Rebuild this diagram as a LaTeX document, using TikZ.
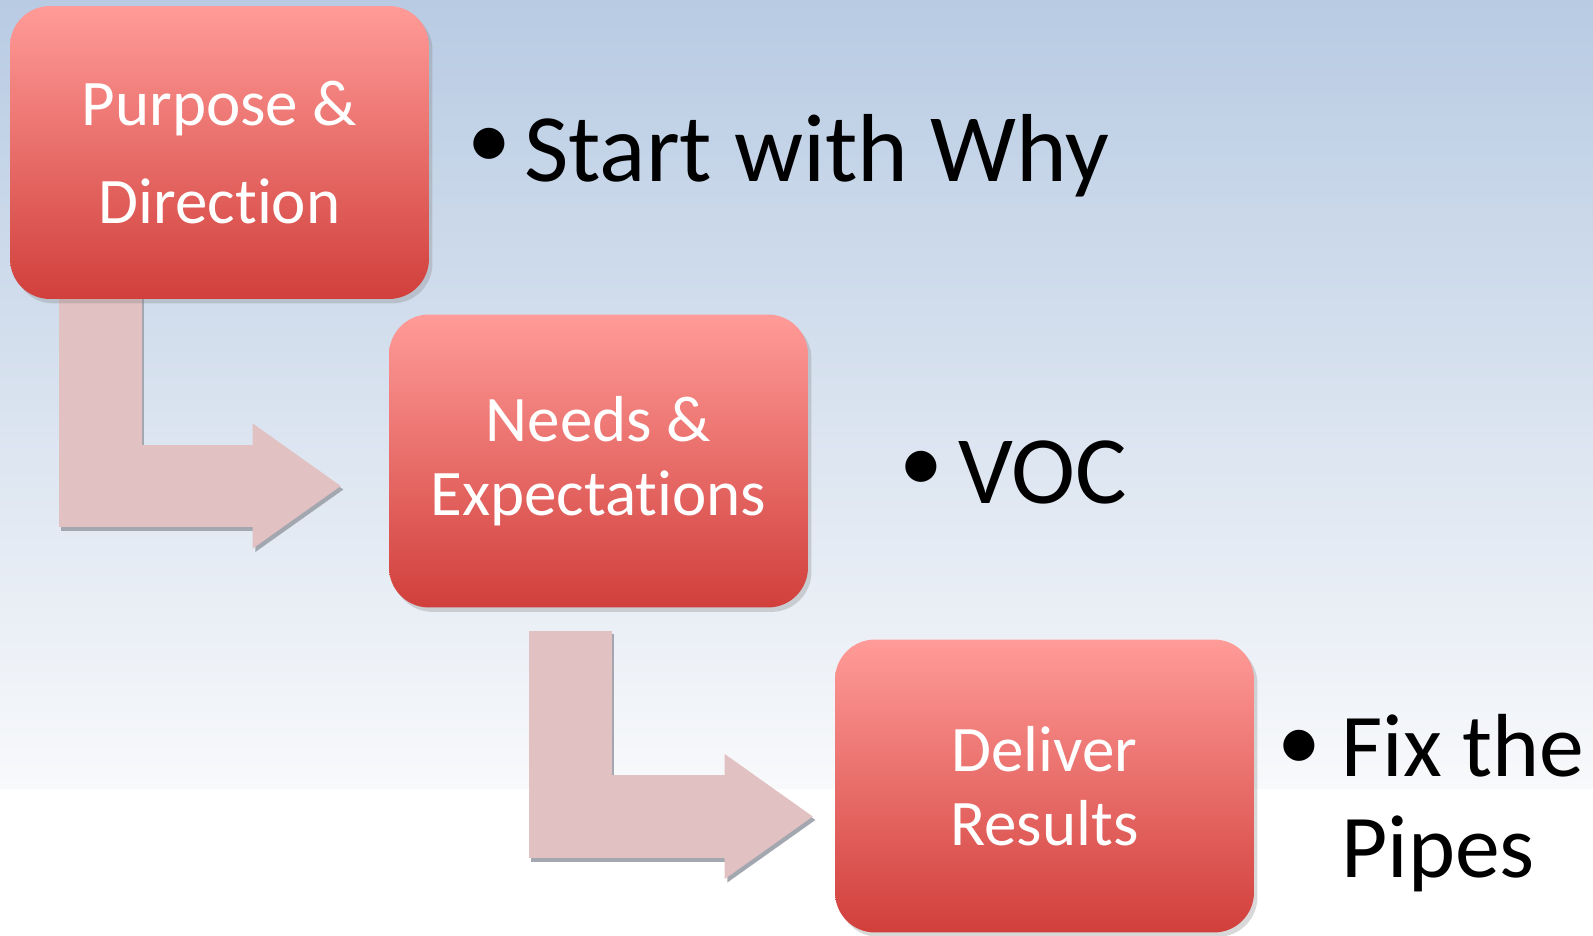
\documentclass[tikz,border=0pt]{standalone}
\usepackage{fontspec}
\setmainfont{Carlito}[RawFeature={-liga;-clig;-calt;-dlig}]
\usetikzlibrary{arrows.meta, calc, backgrounds, shadows}
\definecolor{cbgtop}{HTML}{B8CBE3}
\definecolor{cbgbot}{HTML}{F8F9FB}
\definecolor{cboxtop}{HTML}{FF9B98}
\definecolor{cboxbot}{HTML}{D13F3B}
\definecolor{carrow}{HTML}{E2C1C3}
\definecolor{cshade}{HTML}{A3A7B0}
\tikzset{
  stage/.style={draw=none, rounded corners=0.8cm, top color=cboxtop, bottom color=cboxbot,
    text=white, align=center, inner sep=0pt, minimum width=8.38cm, minimum height=5.86cm,
    drop shadow={shadow xshift=2pt, shadow yshift=-2.5pt, opacity=0.3},
    font=\fontsize{37}{42}\selectfont},
  dot/.style={inner sep=0pt, font=\fontsize{50}{56}\selectfont},
  point/.style={anchor=base west, inner sep=0pt, align=left, font=\fontsize{55}{56}\selectfont},
  bent/.style={draw=carrow, line width=1.66cm, line join=miter,
    -{Triangle[length=1.76cm, width=2.5cm, line width=0pt]}},
  bentshade/.style={bent, draw=cshade, transform canvas={xshift=1.5pt, yshift=-2pt}},
}

\begin{document}
\begin{tikzpicture}[x=0.02cm, y=-0.02cm]
  \useasboundingbox (0,0) rectangle (1593,936);

  % ---- stages
  \node[stage, font=\fontsize{37}{56}\selectfont] (p1) at (219.5,152.5) {Purpose \&\\Direction};
  \node[stage] (p2) at (598.5,461) {Needs \&\\Expectations};
  \node[stage] (p3) at (1044.5,786) {Deliver\\Results};

  % ---- bullet points
  \node[dot] (d1) at (489,148) {•};
  \node[point] (t1) at (524,181) {Start with Why};
  \node[dot] (d2) at (921.5,471.5) {•};
  \node[point] (t2) at (958,503) {VOC};
  \node[dot] (d3) at (1299.5,750) {•};
  \node[point, font=\fontsize{51}{57}\selectfont] (t3) at (1341,877) {Fix the\\Pipes};

  \begin{scope}[on background layer]
    \fill[top color=cbgtop, bottom color=cbgbot] (0,0) rectangle (1593,789);
    \fill[white] (0,789) rectangle (1593,936);
    % bent arrows
    \draw[bentshade, shorten >=0.96cm] ($(p1.south west)+(90.5,-10)$) |- ($(p2.west)+(0,25)$);
    \draw[bent, shorten >=0.96cm] ($(p1.south west)+(90.5,-10)$) |- ($(p2.west)+(0,25)$);
    \draw[bentshade, shorten >=0.44cm] ($(p2.south west)+(181.5,23)$) |- ($(p3.west)+(0,30.5)$);
    \draw[bent, shorten >=0.44cm] ($(p2.south west)+(181.5,23)$) |- ($(p3.west)+(0,30.5)$);
  \end{scope}
\end{tikzpicture}
\end{document}
